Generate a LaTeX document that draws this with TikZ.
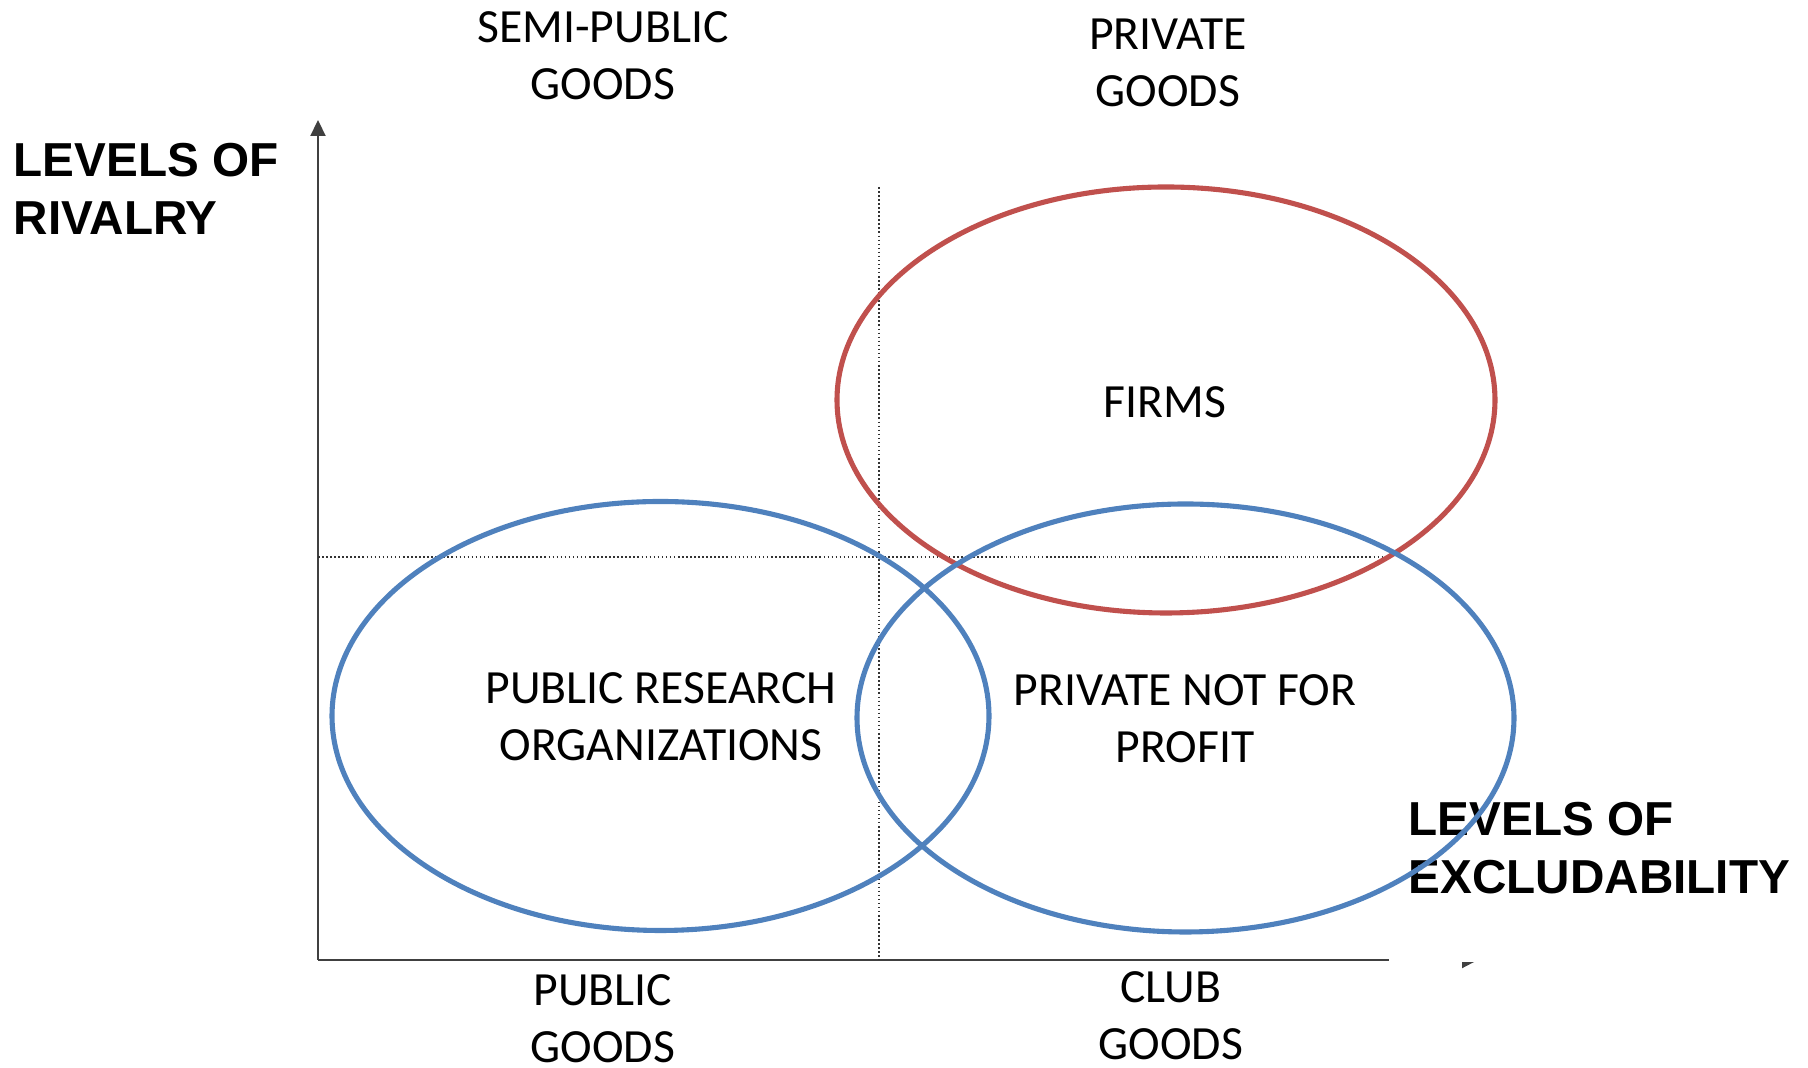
\documentclass[tikz,border=0pt]{standalone}
\usepackage{fontspec}
\usetikzlibrary{arrows.meta}
\newfontfamily\labelfont{Carlito}
\newfontfamily\axisfont{Liberation Sans}
\definecolor{ovred}{HTML}{C0504D}
\definecolor{ovblue}{HTML}{4F81BD}
\begin{document}
\begin{tikzpicture}[x=0.01cm,y=-0.01cm,
  goods/.style={inner sep=0pt,align=center,font=\labelfont\fontsize{13.55}{16.2}\selectfont},
  axislabel/.style={inner sep=0pt,align=left,anchor=west,font=\axisfont\bfseries\fontsize{13.55}{16.5}\selectfont},
  axisline/.style={line width=0.6pt,draw=black!75},
  guide/.style={line width=0.4pt,draw=black!80,dash pattern=on 0.45pt off 0.7pt},
  oval/.style={line width=1.45pt}]
\useasboundingbox (0,0) rectangle (1808,1068);

% axes
\coordinate (origin) at (318,960);
\coordinate (ytip) at (318,120);
\coordinate (xtip) at (1478,960);
\draw[axisline,-{Triangle[length=0.16cm,width=0.15cm]}] (origin) -- (ytip);
\draw[axisline,-{Triangle[length=0.16cm,width=0.16cm]}] (origin) -- (xtip);

% quadrant guides
\coordinate (vtop) at (879,187);
\coordinate (vbot) at (879,960);
\coordinate (hleft) at (318,557);
\coordinate (hright) at (1393,557);
\draw[guide] (vtop) -- (vbot);
\draw[guide] (hleft) -- (hright);

% horizontal axis label on a white ground
\fill[white] (1389,780) rectangle (1808,962.5);
\node[axislabel] (xlab) at (1408,848) {LEVELS OF\\EXCLUDABILITY};
\node[axislabel] (ylab) at (13,189) {LEVELS OF\\RIVALRY};

% organisations
\draw[oval,ovred] (1166,400) ellipse [x radius=329,y radius=213];
\draw[oval,ovblue] (660.5,716) ellipse [x radius=328.5,y radius=214.5];
\draw[oval,ovblue] (1185.5,718) ellipse [x radius=328.5,y radius=214];

\node[goods] (firms) at (1165,402) {FIRMS};
\node[goods] (pro) at (661,717) {PUBLIC RESEARCH\\ORGANIZATIONS};
\node[goods] (pnfp) at (1185,719) {PRIVATE NOT FOR\\PROFIT};

% kinds of goods
\node[goods] (semi) at (603,56) {SEMI-PUBLIC\\GOODS};
\node[goods] (priv) at (1168,63) {PRIVATE\\GOODS};
\node[goods] (pub) at (603,1019) {PUBLIC\\GOODS};
\node[goods] (club) at (1171,1016) {CLUB\\GOODS};
\end{tikzpicture}
\end{document}
